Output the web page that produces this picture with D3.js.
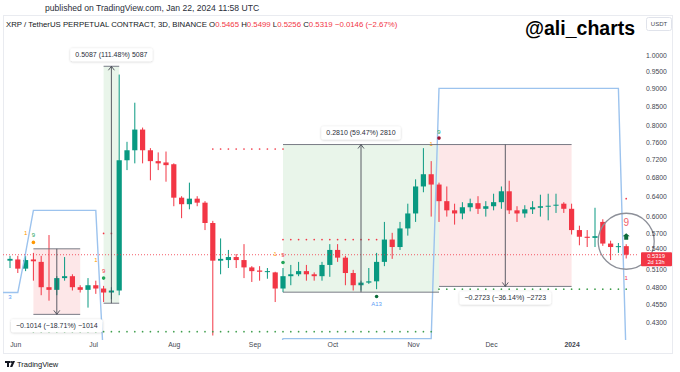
<!DOCTYPE html>
<html>
<head>
<meta charset="utf-8">
<script src="https://cdn.jsdelivr.net/npm/d3@7"></script>
<style>
  body { margin: 0; background: #fff; }
  svg { display: block; }
  text { font-family: "Liberation Sans", Arial, sans-serif; }
</style>
</head>
<body>
<svg id="chart" width="680" height="372"></svg>
<script>
// 3D bars, first bar opens on this day
var barStart = "2023-05-30";

var opens = [.522,.524,.509,.524,.520,.480,.476,.494,.497,.480,.476,.483,.478,.472,.475,.717,.740,.790,.740,.715,
  .712,.708,.637,.624,.635,.627,.588,.522,.523,.528,.523,.511,.506,.504,.503,.478,.497,.500,.505,.500,
  .497,.515,.540,.527,.502,.483,.487,.489,.520,.558,.545,.578,.606,.660,.686,.664,.630,.612,.606,.618,
  .626,.615,.620,.628,.650,.612,.606,.614,.617,.620,.621,.625,.615,.575,.563,.561,.590,.551,.545,.5465];
var highs = [.530,.530,.530,.535,.530,.566,.497,.528,.500,.483,.494,.490,.482,.480,.940,.760,.860,.795,.745,.735,
  .737,.710,.640,.668,.640,.630,.592,.560,.540,.533,.550,.513,.513,.510,.504,.510,.515,.520,.515,.503,
  .520,.550,.550,.530,.507,.490,.510,.535,.590,.570,.590,.625,.675,.745,.715,.668,.660,.625,.628,.635,
  .640,.630,.645,.660,.672,.620,.622,.630,.643,.645,.645,.628,.625,.583,.575,.617,.595,.556,.552,.5499];
var lows = [.510,.502,.505,.490,.468,.460,.468,.490,.475,.472,.450,.470,.458,.462,.468,.695,.710,.710,.673,.695,
  .670,.620,.597,.614,.620,.575,.412,.500,.510,.510,.494,.488,.490,.493,.458,.4725,.483,.497,.490,.490,
  .490,.496,.520,.483,.475,.475,.485,.477,.513,.525,.540,.565,.590,.648,.600,.590,.600,.585,.595,.610,
  .605,.600,.612,.615,.605,.590,.598,.605,.600,.593,.607,.607,.567,.548,.545,.545,.547,.523,.535,.5256];
var closes = [.525,.509,.523,.521,.480,.476,.494,.497,.480,.476,.483,.478,.472,.475,.717,.740,.790,.740,.715,.710,
  .706,.637,.624,.635,.627,.588,.522,.525,.528,.523,.511,.505,.504,.505,.478,.497,.500,.505,.500,.497,
  .515,.540,.527,.502,.483,.487,.489,.520,.558,.545,.578,.606,.660,.686,.664,.630,.612,.606,.618,.626,
  .615,.620,.628,.650,.612,.606,.614,.618,.620,.621,.623,.615,.575,.563,.561,.564,.551,.545,.5465,.5319];

var yTicks = [1.0, 0.95, 0.9, 0.85, 0.8, 0.76, 0.72, 0.68, 0.64, 0.6, 0.57, 0.54, 0.51, 0.48, 0.455, 0.43];

// blue step line: [fromBar, toBar, price]
var blueSteps = [[-1, 1, 0.472], [2, 2, 0.535], [3, 11, 0.612], [12, 34, 0.38], [35, 54, 0.408], [55, 78, 0.90], [79, 79, 0.38]];

// dotted levels: [fromBar, toBar, price, kind]
var levels = [[3, 54, 0.417, "sup"], [55, 79, 0.477, "sup"], [12, 13, 0.569, "res"],
  [26, 35, 0.743, "res"], [35, 47, 0.558, "res"], [79, 79, 0.635, "res"]];

// price range drawings: [fromBar, toBar, fromPrice, toPrice]
var measures = [[3, 9, 0.5419, 0.4405], [12, 14, 0.4563, 0.9650], [35, 55, 0.4725, 0.7535], [55, 72, 0.7535, 0.4812]];

// count labels: [bar, price, text, kind]
var markTexts = [[0, 0.465, "3", "blue"], [2, 0.569, "1", "orange"], [3, 0.566, "9", "green"],
  [11, 0.523, "1", "orange"], [12, 0.506, "9", "red"], [34, 0.534, "1", "orange"], [35, 0.532, "9", "red"],
  [47, 0.456, "A13", "blue"], [54, 0.754, "1", "orange"], [55, 0.784, "9", "green"], [79, 0.495, "1", "red"]];
var markDots = [[3, 0.553, "orange"], [12, 0.494, "green"], [35, 0.519, "green"], [47, 0.466, "dkgreen"], [55, 0.769, "dkred"]];
var bigNine = [79, 0.588, "9"];
var upArrow = [79, 0.563];
var circled = [79, 0.555];

var lastPrice = 0.5319, countdown = "2d 13h";

var colors = { up: "#089981", down: "#f23645", blue: "#5b9cf5", orange: "#ff9800", green: "#22a559",
  red: "#f23645", dkgreen: "#0b6b3a", dkred: "#9c1330", sup: "#3f9e4d", res: "#f23645" };

var svg = d3.select("#chart");
var n = opens.length;
var t0 = d3.utcParse("%Y-%m-%d")(barStart);
var barDate = function (i) { return d3.utcDay.offset(t0, 3 * i); };
var dates = d3.range(n).map(barDate);

var x = d3.scaleUtc().domain([dates[0], dates[n - 1]]).range([10, 626.2]);
var y = d3.scaleLog().domain([0.43, 1]).range([322, 55]);
var bx = function (i) { return x(barDate(i)); };

var defs = svg.append("defs");
defs.append("clipPath").attr("id", "plot").append("rect")
  .attr("x", 3).attr("y", 17).attr("width", 636).attr("height", 323);
var sh = defs.append("filter").attr("id", "shadow").attr("x", "-20%").attr("y", "-50%").attr("width", "140%").attr("height", "200%");
sh.append("feDropShadow").attr("dx", 0).attr("dy", 0.5).attr("stdDeviation", 0.8).attr("flood-opacity", 0.22);

// frame
svg.append("rect").attr("x", 3.5).attr("y", 15.5).attr("width", 669).attr("height", 338)
  .attr("fill", "none").attr("stroke", "#e9ebf0");

var plot = svg.append("g").attr("clip-path", "url(#plot)");

// measure boxes (fill)
measures.forEach(function (m) {
  var x0 = bx(m[0]), x1 = bx(m[1]), ya = y(m[2]), yb = y(m[3]);
  plot.append("rect").attr("x", x0).attr("y", Math.min(ya, yb))
    .attr("width", x1 - x0).attr("height", Math.abs(yb - ya))
    .attr("fill", m[3] > m[2] ? "rgba(76,175,80,0.12)" : "rgba(242,54,69,0.12)");
});

// candles
var cg = plot.append("g");
cg.selectAll("line").data(d3.range(n)).join("line")
  .attr("x1", function (i) { return bx(i); }).attr("x2", function (i) { return bx(i); })
  .attr("y1", function (i) { return y(highs[i]); }).attr("y2", function (i) { return y(lows[i]); })
  .attr("stroke", function (i) { return closes[i] >= opens[i] ? colors.up : colors.down; })
  .attr("stroke-width", 1);
cg.selectAll("rect").data(d3.range(n)).join("rect")
  .attr("x", function (i) { return bx(i) - 2.6; }).attr("width", 5.2)
  .attr("y", function (i) { return y(Math.max(opens[i], closes[i])); })
  .attr("height", function (i) { return Math.max(1, Math.abs(y(opens[i]) - y(closes[i]))); })
  .attr("fill", function (i) { return closes[i] >= opens[i] ? colors.up : colors.down; });

// blue step line
var bluePts = [];
blueSteps.forEach(function (s) {
  bluePts.push([s[0], s[2]]);
  if (s[1] !== s[0]) bluePts.push([s[1], s[2]]);
});
plot.append("path").datum(bluePts)
  .attr("d", d3.line().x(function (p) { return bx(p[0]); }).y(function (p) { return y(p[1]); }))
  .attr("fill", "none").attr("stroke", "#9cc3ee").attr("stroke-width", 1.4);

// dotted levels
levels.forEach(function (l) {
  plot.append("g").selectAll("circle").data(d3.range(l[0], l[1] + 1)).join("circle")
    .attr("cx", function (i) { return bx(i); }).attr("cy", y(l[2])).attr("r", 0.85)
    .attr("fill", colors[l[3]]);
});

// last price line
plot.append("line").attr("x1", 3).attr("x2", 640).attr("y1", y(lastPrice)).attr("y2", y(lastPrice))
  .attr("stroke", colors.down).attr("stroke-width", 0.8).attr("stroke-dasharray", "1,2");

// count marks
plot.append("g").selectAll("text").data(markTexts).join("text")
  .attr("x", function (d) { return bx(d[0]); }).attr("y", function (d) { return y(d[1]); })
  .attr("dy", "0.35em").attr("text-anchor", "middle").attr("font-size", 6)
  .attr("fill", function (d) { return colors[d[3]]; }).text(function (d) { return d[2]; });
plot.append("g").selectAll("circle").data(markDots).join("circle")
  .attr("cx", function (d) { return bx(d[0]); }).attr("cy", function (d) { return y(d[1]); })
  .attr("r", 1.8).attr("fill", function (d) { return colors[d[2]]; });
plot.append("text").attr("x", bx(bigNine[0])).attr("y", y(bigNine[1])).attr("dy", "0.35em")
  .attr("text-anchor", "middle").attr("font-size", 10).attr("fill", "#f0606c").text(bigNine[2]);
var ax = bx(upArrow[0]), ay = y(upArrow[1]);
plot.append("path")
  .attr("d", "M" + ax + "," + (ay - 3.5) + "L" + (ax + 3.5) + "," + (ay - 0.5) + "L" + (ax + 2) + "," + (ay - 0.5) +
    "L" + (ax + 2) + "," + (ay + 3) + "L" + (ax - 2) + "," + (ay + 3) + "L" + (ax - 2) + "," + (ay - 0.5) +
    "L" + (ax - 3.5) + "," + (ay - 0.5) + "Z")
  .attr("fill", colors.dkgreen);

// measure lines, arrows and labels
var fmtPrice = function (v) { return (v < 0 ? "\u2212" : "") + Math.abs(v).toFixed(4); };
var labels = svg.append("g");
measures.forEach(function (m) {
  var x0 = bx(m[0]), x1 = bx(m[1]), ya = y(m[2]), yb = y(m[3]), xm = (x0 + x1) / 2;
  var up = m[3] > m[2];
  [ya, yb].forEach(function (yy) {
    plot.append("line").attr("x1", x0).attr("x2", x1).attr("y1", yy).attr("y2", yy)
      .attr("stroke", "#6a6d78").attr("stroke-width", 0.9);
  });
  plot.append("line").attr("x1", xm).attr("x2", xm).attr("y1", ya).attr("y2", yb)
    .attr("stroke", "#4a4d57").attr("stroke-width", 0.9);
  var s = up ? 1 : -1;
  plot.append("path")
    .attr("d", "M" + (xm - 3) + "," + (yb + 4 * s) + "L" + xm + "," + yb + "L" + (xm + 3) + "," + (yb + 4 * s))
    .attr("fill", "none").attr("stroke", "#4a4d57").attr("stroke-width", 0.9);

  var diff = m[3] - m[2];
  var pct = diff / m[2] * 100;
  var ticks = Math.round(diff * 10000);
  var txt = fmtPrice(diff) + " (" + (pct < 0 ? "\u2212" : "") + Math.abs(pct).toFixed(2) + "%) " +
    (ticks < 0 ? "\u2212" : "") + Math.abs(ticks);
  var ly = up ? Math.min(ya, yb) - 11.5 : Math.max(ya, yb) + 11.5;
  var lg = labels.append("g");
  var rect = lg.append("rect").attr("fill", "#fff").attr("rx", 2).attr("filter", "url(#shadow)");
  var t = lg.append("text").attr("x", xm).attr("y", ly).attr("dy", "0.35em").attr("text-anchor", "middle")
    .attr("font-size", 7).attr("fill", "#2a2e39").text(txt);
  var w = t.node().getComputedTextLength();
  rect.attr("x", xm - w / 2 - 5).attr("y", ly - 6.5).attr("width", w + 10).attr("height", 13);
});

// highlight circle
svg.append("circle").attr("cx", bx(circled[0])).attr("cy", y(circled[1])).attr("r", 28)
  .attr("fill", "none").attr("stroke", "#8d9099").attr("stroke-width", 1.3);

// right price axis
var yAxis = d3.axisRight(y).tickValues(yTicks).tickSize(0).tickPadding(0).tickFormat(d3.format(".4f"));
var yg = svg.append("g").attr("transform", "translate(646,0)").call(yAxis);
yg.select(".domain").remove();
yg.selectAll("text").attr("font-size", 6.8).attr("fill", "#434651");
// nudge the two labels around the price tag
yg.selectAll(".tick").filter(function (d) { return d === 0.54; }).select("text").attr("dy", "0.1em");
yg.selectAll(".tick").filter(function (d) { return d === 0.51; }).select("text").attr("dy", "0.55em");

// last price tag
var ly0 = y(lastPrice);
svg.append("rect").attr("x", 641).attr("y", ly0 - 2.5).attr("width", 31).attr("height", 14).attr("rx", 1)
  .attr("fill", colors.down);
svg.append("text").attr("x", 656).attr("y", ly0 + 1.2).attr("dy", "0.35em").attr("text-anchor", "middle")
  .attr("font-size", 5.8).attr("fill", "#fff").text(lastPrice.toFixed(4));
svg.append("text").attr("x", 656).attr("y", ly0 + 7.7).attr("dy", "0.35em").attr("text-anchor", "middle")
  .attr("font-size", 5.6).attr("fill", "#fff").text(countdown);

// time axis
var months = d3.utcMonth.range(d3.utcMonth.ceil(dates[0]), dates[n - 1]);
var xAxis = d3.axisBottom(x).tickValues(months).tickSize(0).tickPadding(0)
  .tickFormat(function (d) { return d.getUTCMonth() === 0 ? d3.utcFormat("%Y")(d) : d3.utcFormat("%b")(d); });
var xg = svg.append("g").attr("transform", "translate(0,342)").call(xAxis);
xg.select(".domain").remove();
xg.selectAll("text").attr("font-size", 6.8).attr("fill", "#434651")
  .attr("font-weight", function (d) { return d.getUTCMonth() === 0 ? "bold" : null; });

// header
svg.append("text").attr("x", 45).attr("y", 10.5).attr("font-size", 8.6).attr("fill", "#2a2e39")
  .text("published on TradingView.com, Jan 22, 2024 11:58 UTC");
var leg = svg.append("text").attr("x", 6).attr("y", 27).attr("font-size", 7.8).attr("fill", "#131722");
leg.append("tspan").text("XRP / TetherUS PERPETUAL CONTRACT, 3D, BINANCE ");
[["O", opens[n - 1]], ["H", highs[n - 1]], ["L", lows[n - 1]], ["C", closes[n - 1]]].forEach(function (p) {
  leg.append("tspan").text(" " + p[0]);
  leg.append("tspan").attr("fill", colors.down).text(p[1].toFixed(4));
});
var chg = closes[n - 1] - closes[n - 2];
leg.append("tspan").attr("fill", colors.down)
  .text(" " + fmtPrice(chg) + " (" + "\u2212" + Math.abs(chg / closes[n - 2] * 100).toFixed(2) + "%)");

svg.append("text").attr("x", 525).attr("y", 35).attr("font-size", 19.5).attr("font-weight", "bold")
  .attr("fill", "#000").text("@ali_charts");
svg.append("rect").attr("x", 646.5).attr("y", 17.5).attr("width", 25).attr("height", 13).attr("rx", 2)
  .attr("fill", "#fff").attr("stroke", "#e0e3eb");
svg.append("text").attr("x", 659).attr("y", 24).attr("dy", "0.35em").attr("text-anchor", "middle")
  .attr("font-size", 6).attr("fill", "#434651").text("USDT");

// footer logo
var fl = svg.append("g").attr("fill", "#131722");
fl.append("rect").attr("x", 5).attr("y", 361).attr("width", 5).attr("height", 2);
fl.append("rect").attr("x", 7).attr("y", 361).attr("width", 2).attr("height", 6);
fl.append("circle").attr("cx", 11.2).attr("cy", 362).attr("r", 1.1);
fl.append("path").attr("d", "M12.5,361 L15,361 L12.3,367 L10,367 Z");
svg.append("text").attr("x", 17).attr("y", 367).attr("font-size", 7.5).attr("fill", "#131722").text("TradingView");
</script>
</body>
</html>
